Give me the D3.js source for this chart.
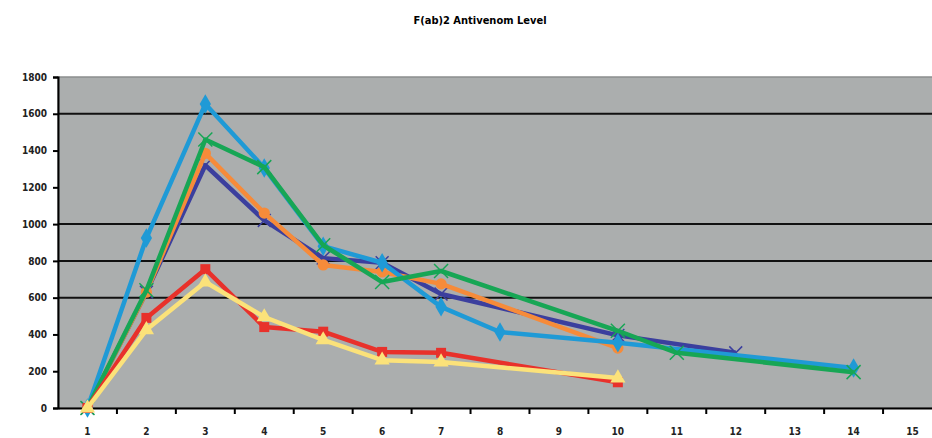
<!DOCTYPE html>
<html>
<head>
<meta charset="utf-8">
<script src="https://cdn.jsdelivr.net/npm/d3@7"></script>
<style>
  body { margin: 0; background: #ffffff; }
  svg { display: block; }
</style>
</head>
<body>
<div id="vis"></div>
<script>
var w = 932;
var h = 438;

// categories (sample number) and y ticks
var categories = [1, 2, 3, 4, 5, 6, 7, 8, 9, 10, 11, 12, 13, 14, 15];
var yTicks = [0, 200, 400, 600, 800, 1000, 1200, 1400, 1600, 1800];
var gridValues = [600, 800, 1000, 1600];

// series values, null = no reading
var darkBlue  = [0, 630, 1320, 1020, 815, 790, 620, null, null, 395, null, 300, null, null, null];
var orange    = [0, 630, 1385, 1060, 778, 740, 675, null, null, 326, null, null, null, null, null];
var green     = [0, 640, 1460, 1310, 885, 685, 745, null, null, 420, 300, null, null, 195, null];
var lightBlue = [0, 924, 1653, 1305, 880, 790, 550, 413, null, 355, null, null, null, 218, null];
var red       = [0, 490, 755, 440, 415, 305, 300, null, null, 140, null, null, null, null, null];
var yellow    = [0, 425, 685, 495, 370, 260, 250, null, null, 163, null, null, null, null, null];

var series = [
  { values: darkBlue,  color: '#3b3f9e', marker: 'x' },
  { values: orange,    color: '#f68b3a', marker: 'circle' },
  { values: lightBlue, color: '#1f9ad6', marker: 'diamond' },
  { values: green,     color: '#17a655', marker: 'star' },
  { values: red,       color: '#e8312b', marker: 'square' },
  { values: yellow,    color: '#fbe27a', marker: 'triangle' }
];

var margin = { top: 77, left: 58, bottom: 408 };
var plotW = 884; // plot runs past the right edge of the picture

var svg = d3.select('#vis')
  .append('svg')
    .attr('width', w)
    .attr('height', h);

var x = d3.scaleBand()
  .domain(categories)
  .range([margin.left, margin.left + plotW]);

var y = d3.scaleLinear()
  .domain([0, 1800])
  .range([margin.bottom, margin.top]);

// title
svg.append('text')
  .attr('x', 480)
  .attr('y', 24)
  .attr('text-anchor', 'middle')
  .style('font-family', 'DejaVu Sans Condensed, Liberation Sans, sans-serif')
  .style('font-weight', 'bold')
  .style('font-size', '11px')
  .text('F(ab)2 Antivenom Level');

// plot area
svg.append('rect')
  .attr('x', margin.left)
  .attr('y', margin.top)
  .attr('width', plotW)
  .attr('height', margin.bottom - margin.top)
  .style('fill', '#abaeae')
  .style('stroke', '#8c8f8f')
  .style('stroke-width', 1.5);

// grid lines
svg.selectAll('line.grid')
  .data(gridValues)
  .enter()
  .append('line')
    .attr('class', 'grid')
    .attr('x1', margin.left)
    .attr('x2', margin.left + plotW)
    .attr('y1', function(d) { return y(d); })
    .attr('y2', function(d) { return y(d); })
    .style('stroke', '#111')
    .style('stroke-width', 2);

// y axis
var yAxis = svg.append('g')
  .attr('transform', 'translate(' + margin.left + ',0)')
  .call(d3.axisLeft(y).tickValues(yTicks).tickFormat(d3.format('d')).tickSize(5).tickPadding(6));

// x axis, ticks between categories
var xAxis = svg.append('g')
  .attr('transform', 'translate(0,' + margin.bottom + ')')
  .call(d3.axisBottom(x).tickSize(0).tickPadding(20));

xAxis.selectAll('.boundary')
  .data(categories.slice(1))
  .enter()
  .append('line')
    .attr('class', 'boundary')
    .attr('x1', function(d) { return x(d); })
    .attr('x2', function(d) { return x(d); })
    .attr('y1', 0)
    .attr('y2', 6)
    .style('stroke', '#000')
    .style('stroke-width', 2);

[yAxis, xAxis].forEach(function(g) {
  g.select('.domain').style('stroke', '#000').style('stroke-width', 2);
  g.selectAll('.tick line').style('stroke', '#000').style('stroke-width', 2);
  g.selectAll('text')
    .style('font-family', 'DejaVu Sans Condensed, Liberation Sans, sans-serif')
    .style('font-weight', 'bold')
    .style('font-size', '10px')
    .style('fill', '#222');
});

var cx = function(i) { return x(categories[i]) + x.bandwidth() / 2; };

var line = d3.line()
  .x(function(d) { return cx(d.i); })
  .y(function(d) { return y(d.v); });

var symbols = {
  diamond: d3.symbol().type(d3.symbolDiamond).size(110),
  square: d3.symbol().type(d3.symbolSquare).size(100),
  triangle: d3.symbol().type(d3.symbolTriangle).size(100),
  circle: d3.symbol().type(d3.symbolCircle).size(100),
  x: d3.symbol().type(d3.symbolTimes).size(110),
  star: d3.symbol().type(d3.symbolTimes).size(130)
};

series.forEach(function(s) {
  var pts = s.values
    .map(function(v, i) { return { i: i, v: v }; })
    .filter(function(d) { return d.v !== null; });

  svg.append('path')
    .datum(pts)
    .attr('d', line)
    .style('fill', 'none')
    .style('stroke', s.color)
    .style('stroke-width', 4.5)
    .style('stroke-linejoin', 'round');

  var m = svg.selectAll(null)
    .data(pts)
    .enter()
    .append('path')
      .attr('transform', function(d) { return 'translate(' + cx(d.i) + ',' + y(d.v) + ')'; })
      .attr('d', symbols[s.marker]());

  if (s.marker === 'x' || s.marker === 'star') {
    m.style('fill', 'none').style('stroke', s.color).style('stroke-width', 1.5);
  } else {
    m.style('fill', s.color);
  }
});
</script>
</body>
</html>
